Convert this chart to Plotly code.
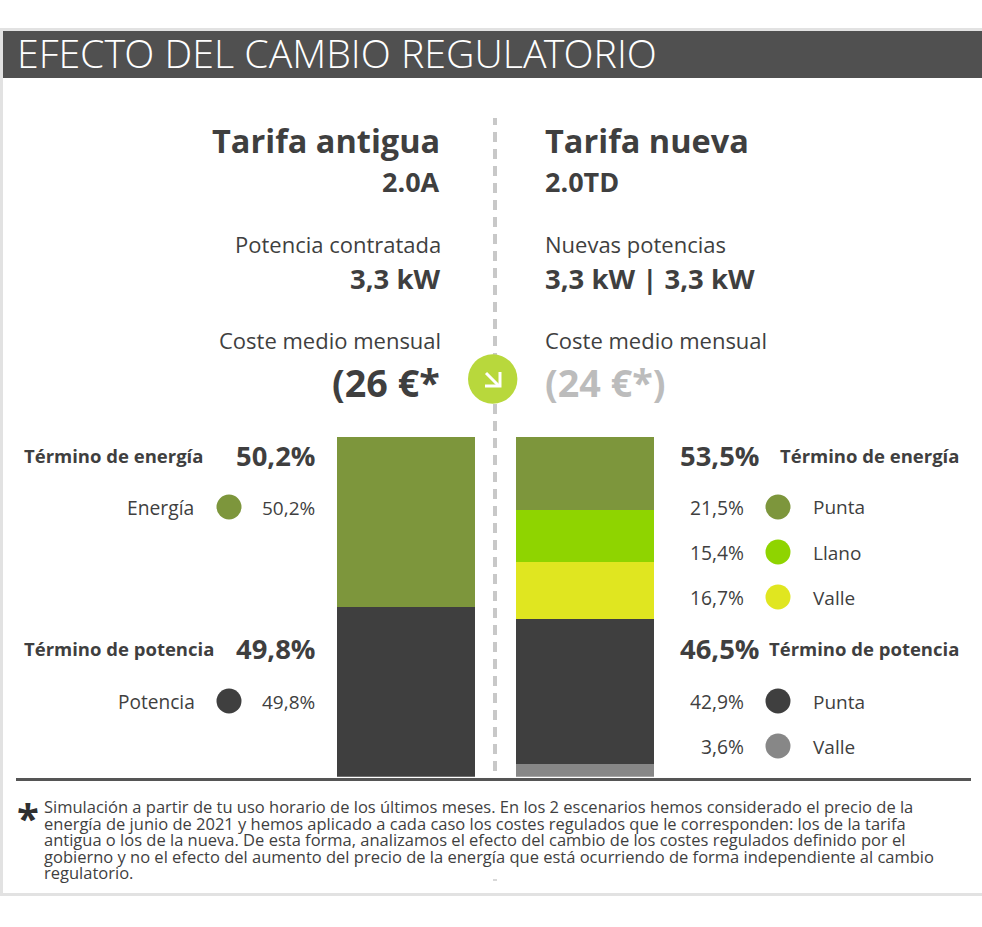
import plotly.graph_objects as go

W, H = 982, 927
FONT = "Open Sans"
DARK = "#3f3f3f"
OLIVE, LIME, YELLOW, GREY = "#7d963c", "#8fd400", "#e0e620", "#878787"

tariffs = ["Tarifa antigua", "Tarifa nueva"]
old_segments = ["Potencia", "Energía"]
old_values = [49.8, 50.2]
old_colors = [DARK, OLIVE]
new_segments = ["Potencia Valle", "Potencia Punta", "Energía Valle", "Energía Llano", "Energía Punta"]
new_values = [3.6, 42.9, 16.7, 15.4, 21.5]
new_colors = [GREY, DARK, YELLOW, LIME, OLIVE]

footnote = [
    "Simulación a partir de tu uso horario de los últimos meses. En los 2 escenarios hemos considerado el precio de la",
    "energía de junio de 2021 y hemos aplicado a cada caso los costes regulados que le corresponden: los de la tarifa",
    "antigua o los de la nueva. De esta forma, analizamos el efecto del cambio de los costes regulados definido por el",
    "gobierno y no el efecto del aumento del precio de la energía que está ocurriendo de forma independiente al cambio",
    "regulatorio.",
]

fx = lambda x: x / W
fy = lambda y: 1 - y / H

fig = go.Figure()
for name, v, c in zip(old_segments, old_values, old_colors):
    fig.add_bar(x=[tariffs[0]], y=[v], name=name, marker=dict(color=c, line_width=0))
for name, v, c in zip(new_segments, new_values, new_colors):
    fig.add_bar(x=[tariffs[1]], y=[v], name=name, marker=dict(color=c, line_width=0))

shapes = []
def rect(x0, y0, x1, y1, color, layer="below"):
    shapes.append(dict(type="rect", xref="paper", yref="paper", x0=fx(x0), x1=fx(x1), y0=fy(y0), y1=fy(y1),
                       fillcolor=color, line_width=0, layer=layer))
def circle(cx, cy, r, color, layer="above"):
    shapes.append(dict(type="circle", xref="paper", yref="paper", x0=fx(cx - r), x1=fx(cx + r), y0=fy(cy + r), y1=fy(cy - r),
                       fillcolor=color, line_width=0, layer=layer))

# central dashed divider
shapes.append(dict(type="line", xref="paper", yref="paper", x0=fx(495), x1=fx(495), y0=fy(115), y1=fy(771),
                   line=dict(color="#c8c8c8", width=4, dash="10px,7px"), layer="below"))
rect(485, 110, 505, 118, "white")
rect(493, 879, 497, 881, "#d8d8d8")
# frame and header
rect(0, 28, W, 31, "#e2e2e2")
rect(0, 28, 3, 896, "#e2e2e2")
rect(0, 893, W, 896, "#e2e2e2")
rect(3, 31, W, 78, "#505050")
rect(16, 778, 971, 781, "#555555")
# arrow badge
circle(492.7, 379, 24.7, "#b8d83c")
for pts in [[(486, 373), (499, 386)], [(485, 386), (500, 386), (500, 372)]]:
    shapes.append(dict(type="path", xref="paper", yref="paper",
                       path="M" + " L".join(f"{fx(a):.5f},{fy(b):.5f}" for a, b in pts),
                       line=dict(color="white", width=3), layer="above"))

anns = []
def text(x, y, s, size, anchor="left", bold=False, color=DARK, family=FONT):
    dx = 0.5 if anchor == "right" else -1
    anns.append(dict(xref="paper", yref="paper", x=fx(x + dx), y=fy(y), text=f"<b>{s}</b>" if bold else s,
                     showarrow=False, xanchor=anchor, yanchor="middle", borderpad=0,
                     font=dict(family=family, size=size, color=color)))

text(16.5, 53.5, "EFECTO DEL CAMBIO REGULATORIO", 39.3, color="white", family="Open Sans Light, Open Sans")

text(440, 141, "Tarifa antigua", 32.5, "right", True)
text(440, 182, "2.0A", 27, "right", True)
text(441, 244, "Potencia contratada", 22, "right")
text(440, 278, "3,3 kW", 27.5, "right", True)
text(441, 340, "Coste medio mensual", 22, "right")
text(440, 382.5, "(26 €*", 37.7, "right", True)

text(545, 141, "Tarifa nueva", 32.5, "left", True)
text(545, 182, "2.0TD", 27, "left", True)
text(545, 244, "Nuevas potencias", 22, "left")
text(545, 278, "3,3 kW | 3,3 kW", 27.5, "left", True)
text(545, 340, "Coste medio mensual", 22, "left")
text(545, 382.5, "(24 €*)", 37.7, "left", True, color="#bcbcbc")

text(24, 455.5, "Término de energía", 18.5, "left", True)
text(315, 455.5, "50,2%", 27.4, "right", True)
text(194, 508, "Energía", 19.3, "right")
circle(229, 507, 12.5, OLIVE)
text(315, 508, "50,2%", 19, "right")
text(24, 648, "Término de potencia", 18.5, "left", True)
text(315, 648, "49,8%", 27.4, "right", True)
text(195.5, 701.5, "Potencia", 19.1, "right")
circle(229, 701, 12.5, DARK)
text(315, 701.5, "49,8%", 19, "right")

text(759, 455.5, "53,5%", 27.4, "right", True)
text(959, 455.5, "Término de energía", 18.5, "right", True)
text(759, 648, "46,5%", 27.4, "right", True)
text(959, 648, "Término de potencia", 18.5, "right", True)
rows = [(508, "21,5%", OLIVE, "Punta"), (553, "15,4%", LIME, "Llano"), (598, "16,7%", YELLOW, "Valle"),
        (702, "42,9%", DARK, "Punta"), (747, "3,6%", GREY, "Valle")]
for y, pct, col, lab in rows:
    text(744, y - 0.5, pct, 19.3, "right")
    circle(778, y - 1, 12.5, col)
    text(812.5, y - 0.5, lab, 19, "left")

text(17, 817, "*", 40, "left", True, color="#2f2f2f")
for i, line in enumerate(footnote):
    text(44, 806.5 + i * 16.5, line, 16.5, "left")

fig.update_layout(
    width=W, height=H, margin=dict(l=0, r=0, t=0, b=0, pad=0),
    paper_bgcolor="white", plot_bgcolor="rgba(0,0,0,0)",
    barmode="stack", bargap=0.229, showlegend=False,
    xaxis=dict(domain=[fx(316.5), fx(674.5)], type="category", categoryorder="array", categoryarray=tariffs,
               range=[-0.5, 1.5], visible=False, fixedrange=True),
    yaxis=dict(domain=[fy(776.7), fy(436.9)], range=[0, 100], visible=False, fixedrange=True),
    shapes=shapes, annotations=anns,
)
fig.write_html("out.html", config=dict(displayModeBar=False),
               post_script="document.body.style.margin='0';document.documentElement.style.overflow='hidden';")
